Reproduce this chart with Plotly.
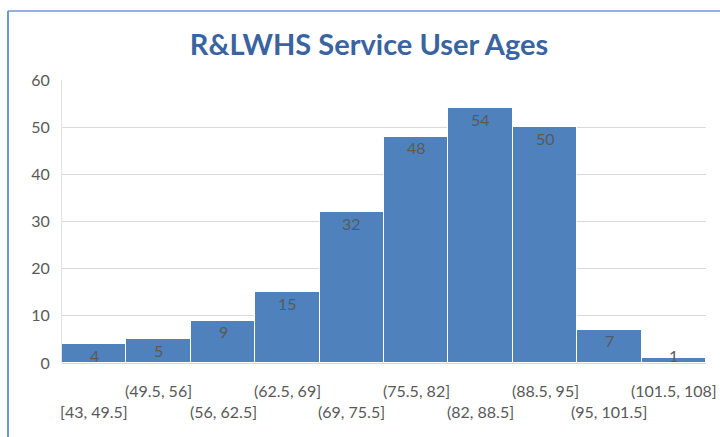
import plotly.graph_objects as go

# Age bands and number of service users in each band
age_bands = ["[43, 49.5]", "(49.5, 56]", "(56, 62.5]", "(62.5, 69]", "(69, 75.5]",
             "(75.5, 82]", "(82, 88.5]", "(88.5, 95]", "(95, 101.5]", "(101.5, 108]"]
user_counts = [4, 5, 9, 15, 32, 48, 54, 50, 7, 1]
y_ticks = [0, 10, 20, 30, 40, 50, 60]

FONT = "Lato"
GREY = "#595959"
BAR = "#4F81BD"

W, H = 720, 437
L, R, T, B = 62, 14, 80, 74
pw, ph = W - L - R, H - T - B

fig = go.Figure(go.Bar(
    x=age_bands, y=user_counts,
    marker=dict(color=BAR, line=dict(color="white", width=1)),
    hoverinfo="x+y",
))

annotations = []
# value labels just inside the top of each bar (kept above the baseline)
for band, n in zip(age_bands, user_counts):
    annotations.append(dict(
        x=band, y=max(n, 4), xref="x", yref="y", text=str(n), showarrow=False,
        yanchor="middle", yshift=-11, font=dict(family=FONT, size=16, color=GREY),
    ))
# staggered category labels in two rows
for i, band in enumerate(age_bands):
    annotations.append(dict(
        x=band, y=0, xref="x", yref="paper", text=band, showarrow=False,
        yanchor="middle", yshift=-48 if i % 2 == 0 else -27,
        font=dict(family=FONT, size=16, color=GREY),
    ))

# outer chart frame (left and top edges)
fx0 = (8 - L) / pw
fy1 = 1 + (T - 11) / ph
shapes = [
    dict(type="line", xref="paper", yref="paper", x0=fx0, x1=fx0, y0=-1, y1=fy1,
         line=dict(color="#6E97D2", width=2)),
    dict(type="line", xref="paper", yref="paper", x0=fx0, x1=2, y0=fy1, y1=fy1,
         line=dict(color="#6E97D2", width=1.5)),
]

fig.update_layout(
    width=W, height=H,
    margin=dict(l=L, r=R, t=T, b=B),
    paper_bgcolor="white", plot_bgcolor="white",
    bargap=0,
    showlegend=False,
    title=dict(
        text="<b>R&LWHS Service User Ages</b>",
        x=369 / W, xanchor="center", xref="container",
        y=1 - 45 / H, yanchor="middle", yref="container",
        font=dict(family=FONT, size=29, color="#3A64A1"),
    ),
    xaxis=dict(range=[-0.5, len(age_bands) - 0.5], showticklabels=False,
               showgrid=False, zeroline=False, showline=False, ticks=""),
    yaxis=dict(range=[0, 60], tickvals=y_ticks, showgrid=True,
               gridcolor="#D9D9D9", gridwidth=1, zeroline=True,
               zerolinecolor="#D9D9D9", zerolinewidth=1,
               showline=True, linecolor="#E3E3E3", linewidth=1,
               ticks="", ticklabelstandoff=8,
               tickfont=dict(family=FONT, size=16, color=GREY)),
    annotations=annotations,
    shapes=shapes,
)

fig.write_html("out.html")
